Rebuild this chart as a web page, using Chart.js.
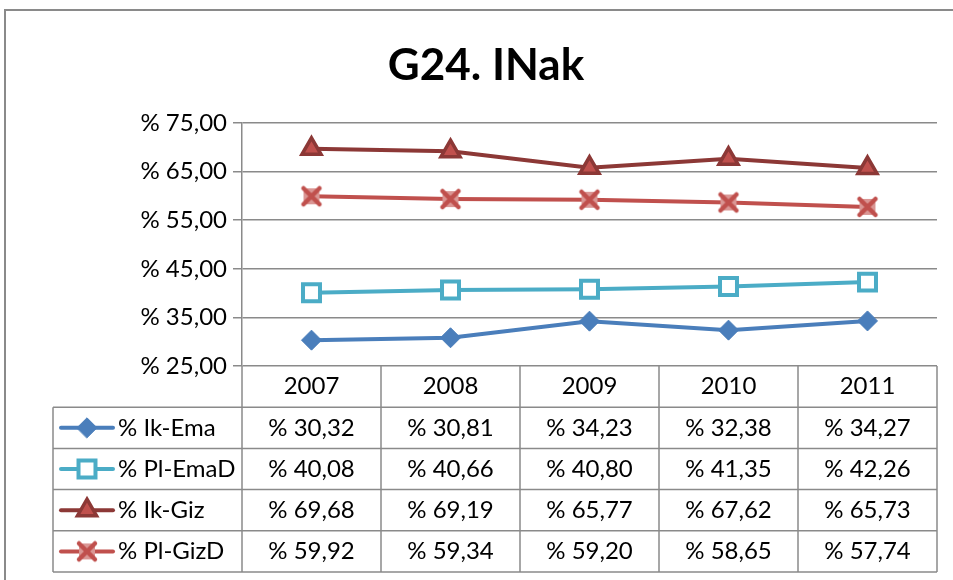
<!DOCTYPE html>
<html>
<head>
<meta charset="utf-8">
<script src="https://cdn.jsdelivr.net/npm/chart.js@4.4.0/dist/chart.umd.min.js"></script>
<style>
  html, body { margin: 0; padding: 0; background: #fff; }
  #wrap { width: 953px; height: 580px; }
</style>
</head>
<body>
<div id="wrap"><canvas id="myChart" width="953" height="580"></canvas></div>
<script>
// Data
var years = ['2007', '2008', '2009', '2010', '2011'];
var seriesNames = ['% Ik-Ema', '% Pl-EmaD', '% Ik-Giz', '% Pl-GizD'];
var ikEma = [30.32, 30.81, 34.23, 32.38, 34.27];
var plEmaD = [40.08, 40.66, 40.80, 41.35, 42.26];
var ikGiz = [69.68, 69.19, 65.77, 67.62, 65.73];
var plGizD = [59.92, 59.34, 59.20, 58.65, 57.74];
var yTicks = [25, 35, 45, 55, 65, 75];

var FONT = 'Lato, "Open Sans", sans-serif';
var GRID = '#8a8a8a';
var PAD_LEFT = 34;

function pct(v) {
  return '% ' + v.toFixed(2).replace('.', ',');
}

// Excel style "x" marker: pink square behind a red cross
function makeCross() {
  var c = document.createElement('canvas');
  c.width = 24; c.height = 24;
  var g = c.getContext('2d');
  g.fillStyle = '#DA9694';
  g.fillRect(4, 4, 16, 16);
  g.strokeStyle = '#C0504D';
  g.lineWidth = 4.5;
  g.lineCap = 'round';
  g.beginPath();
  g.moveTo(4, 4); g.lineTo(20, 20);
  g.moveTo(20, 4); g.lineTo(4, 20);
  g.stroke();
  return c;
}
var crossImg = makeCross();

// Outer frame of the chart object
var framePlugin = {
  id: 'frame',
  beforeDraw: function(chart) {
    var ctx = chart.ctx;
    ctx.save();
    ctx.fillStyle = '#fff';
    ctx.fillRect(0, 0, chart.width, chart.height);
    ctx.strokeStyle = '#8a8a8a';
    ctx.lineWidth = 2;
    ctx.strokeRect(5, 10, chart.width + 20, chart.height + 20);
    ctx.restore();
  }
};

// Data table under the plot, like Excel's "show data table"
var tablePlugin = {
  id: 'dataTable',
  afterDraw: function(chart) {
    var ctx = chart.ctx;
    var area = chart.chartArea;
    var xs = chart.scales.x;
    var rowH = 41.2;
    var tableLeft = 53;
    var top = area.bottom;
    var bottom = top + rowH * 5;
    var colW = (area.right - area.left) / years.length;

    ctx.save();
    ctx.strokeStyle = GRID;
    ctx.lineWidth = 1.5;
    ctx.beginPath();
    for (var r = 1; r <= 5; r++) {
      ctx.moveTo(tableLeft, top + r * rowH);
      ctx.lineTo(area.right, top + r * rowH);
    }
    ctx.moveTo(tableLeft, top + rowH);
    ctx.lineTo(tableLeft, bottom);
    for (var c = 0; c <= years.length; c++) {
      ctx.moveTo(area.left + c * colW, top);
      ctx.lineTo(area.left + c * colW, bottom);
    }
    ctx.stroke();

    ctx.fillStyle = '#000';
    ctx.font = '24px ' + FONT;
    ctx.textAlign = 'center';
    ctx.textBaseline = 'middle';
    years.forEach(function(y, i) {
      ctx.fillText(y, xs.getPixelForValue(i), top + rowH / 2);
    });

    chart.data.datasets.forEach(function(ds, k) {
      var cy = top + rowH * (k + 1.5);
      ctx.textAlign = 'center';
      ctx.fillStyle = '#000';
      ds.data.forEach(function(v, i) {
        ctx.fillText(pct(v), xs.getPixelForValue(i), cy);
      });
      // legend key
      ctx.strokeStyle = ds.borderColor;
      ctx.lineWidth = ds.borderWidth;
      ctx.lineCap = 'round';
      ctx.beginPath();
      ctx.moveTo(61, cy);
      ctx.lineTo(113, cy);
      ctx.stroke();
      ctx.fillStyle = ds.pointBackgroundColor;
      ctx.strokeStyle = ds.pointBorderColor;
      ctx.lineWidth = ds.pointBorderWidth;
      Chart.helpers.drawPoint(ctx, {
        pointStyle: ds.pointStyle,
        radius: ds.pointRadius,
        rotation: 0,
        borderWidth: ds.pointBorderWidth
      }, 87, cy);
      ctx.fillStyle = '#000';
      ctx.textAlign = 'left';
      ctx.fillText(seriesNames[k], 118, cy);
    });
    ctx.restore();
  }
};

var ctx = document.getElementById('myChart').getContext('2d');
var myChart = new Chart(ctx, {
  type: 'line',
  data: {
    labels: years,
    datasets: [{
      label: seriesNames[0],
      data: ikEma,
      borderColor: '#4A7EBB',
      borderWidth: 4,
      pointStyle: 'rectRot',
      pointRadius: 10,
      pointBackgroundColor: '#4A7EBB',
      pointBorderColor: '#4A7EBB',
      pointBorderWidth: 1
    }, {
      label: seriesNames[1],
      data: plEmaD,
      borderColor: '#4BACC6',
      borderWidth: 4,
      pointStyle: 'rect',
      pointRadius: 12,
      pointBackgroundColor: '#ffffff',
      pointBorderColor: '#4BACC6',
      pointBorderWidth: 4
    }, {
      label: seriesNames[2],
      data: ikGiz,
      borderColor: '#8C3836',
      borderWidth: 4,
      pointStyle: 'triangle',
      pointRadius: 11,
      pointBackgroundColor: '#C0504D',
      pointBorderColor: '#8C3836',
      pointBorderWidth: 3.5
    }, {
      label: seriesNames[3],
      data: plGizD,
      borderColor: '#C0504D',
      borderWidth: 4,
      pointStyle: crossImg,
      pointRadius: 12,
      pointBackgroundColor: '#DA9694',
      pointBorderColor: '#C0504D',
      pointBorderWidth: 2
    }]
  },
  options: {
    responsive: false,
    animation: false,
    layout: { padding: { left: PAD_LEFT, right: 15, top: 0, bottom: 214 } },
    plugins: {
      legend: { display: false },
      tooltip: { enabled: false },
      title: {
        display: true,
        text: 'G24. INak',
        color: '#000',
        font: { family: FONT, size: 44, weight: 'bold', lineHeight: 1.2 },
        padding: { top: 39, bottom: 31.2 }
      }
    },
    scales: {
      x: {
        display: false,
        offset: true
      },
      y: {
        min: 25,
        max: 75,
        afterFit: function(scale) { scale.width = 242 - PAD_LEFT; },
        afterBuildTicks: function(scale) {
          scale.ticks = yTicks.map(function(v) { return { value: v }; });
        },
        ticks: {
          color: '#000',
          padding: 6,
          font: { family: FONT, size: 24 },
          callback: function(v) { return pct(v); }
        },
        grid: { color: GRID, lineWidth: 1.5, tickLength: 9 },
        border: { display: true, color: GRID, width: 1.5 }
      }
    }
  },
  plugins: [framePlugin, tablePlugin]
});
</script>
</body>
</html>
